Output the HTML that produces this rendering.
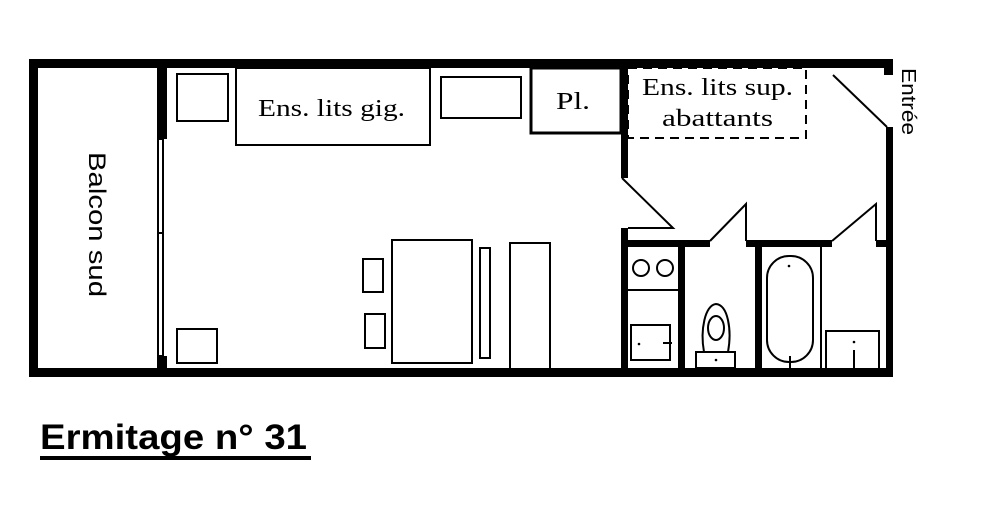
<!DOCTYPE html>
<html><head><meta charset="utf-8"><style>html,body{margin:0;padding:0;background:#fff}svg{display:block}</style></head><body>
<svg width="1000" height="511" viewBox="0 0 1000 511" xmlns="http://www.w3.org/2000/svg">
<rect width="1000" height="511" fill="#fff"/>
<g fill="#000">
<rect x="29" y="59" width="864" height="9"/>
<rect x="29" y="368" width="864" height="9"/>
<rect x="29" y="59" width="9" height="318"/>
<rect x="884" y="59" width="9" height="16"/>
<rect x="886" y="127" width="7" height="250"/>
<rect x="157" y="59" width="10" height="80"/>
<rect x="157" y="356" width="10" height="21"/>
<rect x="621" y="59" width="7" height="119"/>
<rect x="621" y="228" width="7" height="149"/>
<rect x="621" y="240" width="89" height="7"/>
<rect x="746" y="240" width="86" height="7"/>
<rect x="876" y="240" width="12" height="7"/>
<rect x="678" y="240" width="7" height="137"/>
<rect x="755" y="240" width="7" height="137"/>
</g>
<g fill="none" stroke="#000" stroke-width="2">
<rect x="158" y="139" width="5" height="94"/>
<rect x="158" y="233" width="5" height="123"/>
<line x1="833" y1="75" x2="887" y2="127"/>
<polyline points="622,178 673,228 628,228"/>
<polyline points="710,241 746,204 746,241"/>
<polyline points="832,241 876,204 876,241"/>
<rect x="177" y="74" width="51" height="47"/>
<rect x="236" y="68" width="194" height="77"/>
<rect x="441" y="77" width="80" height="41"/>
<rect x="531" y="68" width="90" height="65" stroke-width="3"/>
<rect x="177" y="329" width="40" height="34"/>
<rect x="363" y="259" width="20" height="33"/>
<rect x="365" y="314" width="20" height="34"/>
<rect x="392" y="240" width="80" height="123"/>
<rect x="480" y="248" width="10" height="110"/>
<rect x="510" y="243" width="40" height="127"/>
<rect x="628" y="68" width="178" height="70" stroke-dasharray="9,6"/>
<line x1="628" y1="290" x2="678" y2="290"/>
<circle cx="641" cy="268" r="8"/>
<circle cx="665" cy="268" r="8"/>
<rect x="631" y="325" width="39" height="35"/>
<line x1="663" y1="343" x2="672" y2="343"/>
<rect x="696" y="352" width="39" height="16"/>
<path d="M704,352 C700,330 705,305 716,304 C728,305 732,330 728,352"/>
<ellipse cx="716" cy="328" rx="8" ry="12"/>
<rect x="767" y="256" width="46" height="106" rx="22"/>
<line x1="821" y1="247" x2="821" y2="370"/>
<rect x="826" y="331" width="53" height="39"/>
<line x1="854" y1="350" x2="854" y2="370"/>
<line x1="790" y1="356" x2="790" y2="368"/>
</g>
<g fill="#000">
<circle cx="639" cy="344" r="1.3"/><circle cx="716" cy="360" r="1.3"/><circle cx="854" cy="342" r="1.3"/><circle cx="789" cy="266" r="1.3"/>
</g>
<g font-family="Liberation Serif, serif" font-size="24" fill="#000">
<text x="258" y="116" textLength="147" lengthAdjust="spacingAndGlyphs">Ens. lits gig.</text>
<text x="556" y="109" textLength="34" lengthAdjust="spacingAndGlyphs">Pl.</text>
<text x="642" y="95" textLength="151" lengthAdjust="spacingAndGlyphs">Ens. lits sup.</text>
<text x="662" y="126" textLength="111" lengthAdjust="spacingAndGlyphs">abattants</text>
</g>
<text transform="translate(89,152) rotate(90)" font-family="Liberation Sans, sans-serif" font-size="24" textLength="145" lengthAdjust="spacingAndGlyphs">Balcon sud</text>
<text transform="translate(902,68) rotate(90)" font-family="Liberation Sans, sans-serif" font-size="20" textLength="67" lengthAdjust="spacingAndGlyphs">Entrée</text>
<text x="40" y="449" font-family="Liberation Sans, sans-serif" font-weight="bold" font-size="35" textLength="267" lengthAdjust="spacingAndGlyphs">Ermitage n° 31</text>
<rect x="40" y="456" width="271" height="4" fill="#000"/>
</svg>
</body></html>
